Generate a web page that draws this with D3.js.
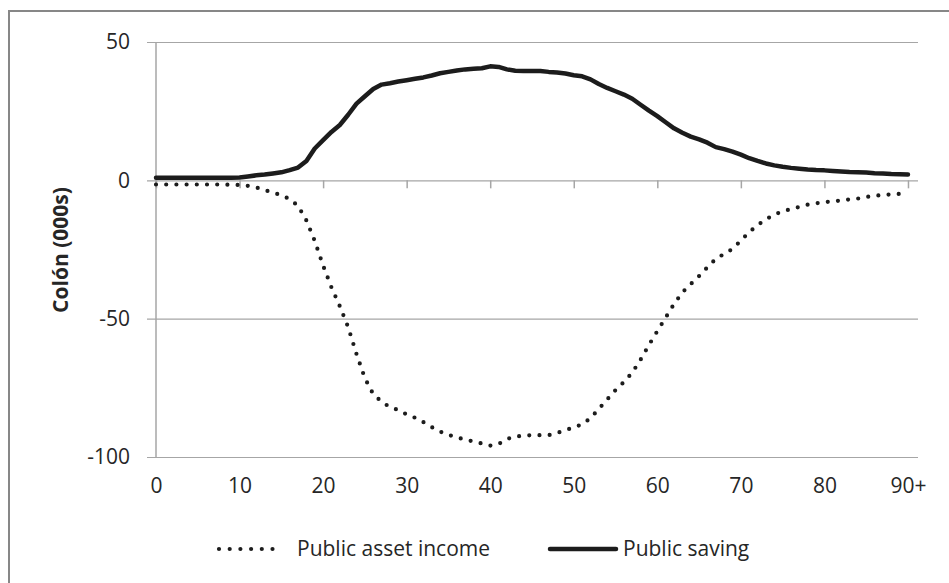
<!DOCTYPE html>
<html>
<head>
<meta charset="utf-8">
<script src="https://cdn.jsdelivr.net/npm/d3@7"></script>
<style>
  html, body { margin: 0; padding: 0; background: #fff; }
  svg { display: block; }
  text { font-family: "Open Sans", "Noto Sans", sans-serif; fill: #262626; }
</style>
</head>
<body>
<svg id="chart" width="949" height="583"></svg>
<script>
// ---- Data ----
const ages = d3.range(0, 91); // 0 .. 90+ (category index)

const publicAssetIncome = [
  -1.5, -1.5, -1.5, -1.5, -1.5, -1.5, -1.5, -1.5, -1.5, -1.6,
  -1.7, -2.0, -2.6, -3.5, -4.5, -5.3, -6.8, -9.2, -14.5, -21.9,
  -30.8, -38.7, -45.5, -53.1, -62.8, -71.5, -77.3, -80.0, -82.0, -83.0,
  -84.6, -85.8, -87.4, -89.2, -90.8, -92.0, -92.9, -93.7, -94.4, -95.1,
  -95.9, -95.3, -93.5, -92.6, -92.3, -92.1, -92.1, -92.1, -91.3, -90.3,
  -89.3, -88.2, -86.0, -82.6, -79.2, -75.8, -72.9, -69.5, -64.8, -59.5,
  -54.5, -49.6, -44.7, -40.5, -37.5, -34.6, -31.4, -28.4, -26.6, -24.8,
  -21.8, -18.7, -16.2, -14.1, -12.4, -11.2, -10.4, -9.6, -8.8, -8.3,
  -7.9, -7.6, -7.3, -6.9, -6.6, -6.0, -5.6, -5.3, -5.1, -4.9,
  -4.7
];

const publicSaving = [
  0.9, 0.9, 0.9, 0.9, 0.9, 0.9, 0.9, 0.9, 0.9, 0.9,
  1.0, 1.4, 1.8, 2.1, 2.5, 2.9, 3.7, 4.6, 7.0, 11.5,
  14.5, 17.5, 20.0, 23.7, 27.7, 30.4, 33.0, 34.6, 35.1, 35.7,
  36.2, 36.7, 37.2, 37.9, 38.7, 39.2, 39.7, 40.1, 40.3, 40.5,
  41.2, 41.0, 40.1, 39.6, 39.5, 39.5, 39.5, 39.2, 39.0, 38.6,
  38.0, 37.6, 36.5, 34.8, 33.4, 32.2, 31.0, 29.5, 27.3, 25.2,
  23.2, 21.0, 18.8, 17.2, 15.8, 14.8, 13.6, 12.0, 11.3, 10.4,
  9.3, 8.0, 7.0, 6.1, 5.4, 4.9, 4.5, 4.2, 3.9, 3.7,
  3.6, 3.4, 3.2, 3.0, 2.9, 2.8, 2.6, 2.5, 2.3, 2.2,
  2.1
];

const xTickValues = [0, 10, 20, 30, 40, 50, 60, 70, 80, 90];
const xTickLabels = ["0", "10", "20", "30", "40", "50", "60", "70", "80", "90+"];
const yTickValues = [50, 0, -50, -100];
const yTickLabels = ["50", "0", "-50", "-100"];
const yTitle = "Colón (000s)";
const seriesNames = ["Public asset income", "Public saving"];

// ---- Layout ----
const svg = d3.select("#chart");
const plot = { left: 156, right: 918, top: 42, bottom: 457 };
const gridColor = "#a6a6a6";
const lineColor = "#1c1c1c";

const x = d3.scaleLinear().domain([0, 91.2]).range([plot.left, plot.right]);
const y = d3.scaleLinear().domain([-100, 50]).range([plot.bottom, plot.top]);

// outer chart border (right/bottom run off the picture)
svg.append("rect")
  .attr("x", 9).attr("y", 11)
  .attr("width", 960).attr("height", 600)
  .attr("fill", "none")
  .attr("stroke", "#878787")
  .attr("stroke-width", 2);

// horizontal gridlines + y axis
const yAxis = d3.axisLeft(y)
  .tickValues(yTickValues)
  .tickFormat((d, i) => yTickLabels[i])
  .tickSize(-(plot.right - plot.left))
  .tickPadding(18);

const gy = svg.append("g")
  .attr("transform", `translate(${plot.left},0)`)
  .call(yAxis);
gy.select(".domain").remove();
gy.selectAll(".tick line")
  .attr("stroke", gridColor)
  .attr("stroke-width", 1.2)
  .attr("x1", -9);
gy.selectAll(".tick text")
  .attr("x", -26)
  .style("font-size", "21px")
  .style("fill", "#262626")
  .style("font-family", "'Open Sans', sans-serif");

// vertical axis line
svg.append("line")
  .attr("x1", plot.left).attr("x2", plot.left)
  .attr("y1", plot.top).attr("y2", plot.bottom)
  .attr("stroke", gridColor).attr("stroke-width", 1.5);

// x axis at y = 0 : tick marks only
const xAxis = d3.axisBottom(x)
  .tickValues(xTickValues)
  .tickFormat("")
  .tickSize(8);
const gx = svg.append("g")
  .attr("transform", `translate(0,${y(0)})`)
  .call(xAxis);
gx.select(".domain").remove();
gx.selectAll(".tick line").attr("stroke", gridColor).attr("stroke-width", 1.5);

// x tick labels below plot
const xLabelAxis = d3.axisBottom(x)
  .tickValues(xTickValues)
  .tickFormat((d, i) => xTickLabels[i])
  .tickSize(0)
  .tickPadding(0);
const gxl = svg.append("g")
  .attr("transform", `translate(0,${plot.bottom})`)
  .call(xLabelAxis);
gxl.select(".domain").remove();
gxl.selectAll(".tick text")
  .attr("y", 36)
  .attr("dy", 0)
  .style("font-size", "21px")
  .style("fill", "#262626")
  .style("font-family", "'Open Sans', sans-serif");

// y axis title
svg.append("text")
  .attr("transform", `translate(68,250) rotate(-90)`)
  .attr("text-anchor", "middle")
  .style("font-size", "21px")
  .style("font-weight", "bold")
  .text(yTitle);

// ---- Lines ----
const lineGen = vals => d3.line()
  .x((d, i) => x(ages[i]))
  .y(d => y(d))(vals);

svg.append("path")
  .attr("d", lineGen(publicSaving))
  .attr("fill", "none")
  .attr("stroke", lineColor)
  .attr("stroke-width", 4.5)
  .attr("stroke-linejoin", "round")
  .attr("stroke-linecap", "round");

svg.append("path")
  .attr("d", lineGen(publicAssetIncome))
  .attr("fill", "none")
  .attr("stroke", lineColor)
  .attr("stroke-width", 4.2)
  .attr("stroke-linecap", "round")
  .attr("stroke-dasharray", "0 10.2");

// ---- Legend ----
const legY = 549;
svg.append("line")
  .attr("x1", 219).attr("x2", 283)
  .attr("y1", legY).attr("y2", legY)
  .attr("stroke", lineColor)
  .attr("stroke-width", 4.2)
  .attr("stroke-linecap", "round")
  .attr("stroke-dasharray", "0 10.7");
svg.append("text")
  .attr("x", 297).attr("y", legY)
  .attr("dy", "0.35em")
  .style("font-size", "21px")
  .text(seriesNames[0]);

svg.append("line")
  .attr("x1", 550).attr("x2", 616)
  .attr("y1", legY).attr("y2", legY)
  .attr("stroke", lineColor)
  .attr("stroke-width", 4.5)
  .attr("stroke-linecap", "round");
svg.append("text")
  .attr("x", 623).attr("y", legY)
  .attr("dy", "0.35em")
  .style("font-size", "21px")
  .text(seriesNames[1]);
</script>
</body>
</html>
